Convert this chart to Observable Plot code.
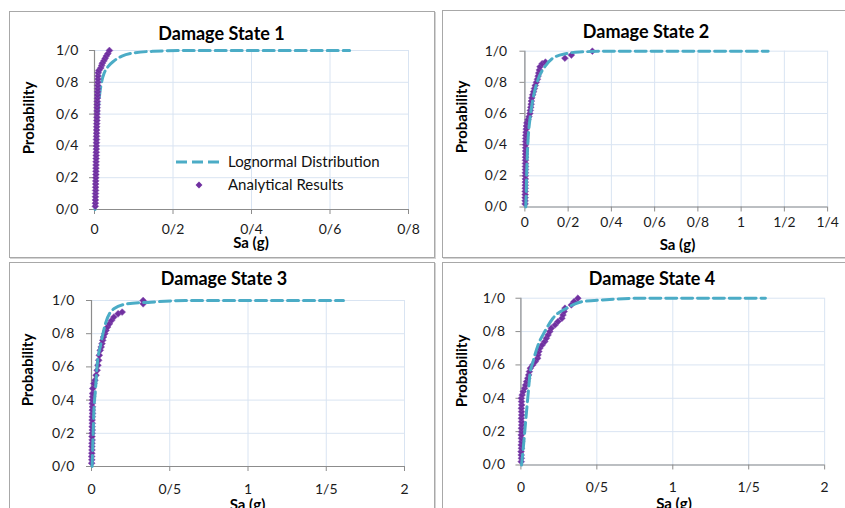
<!DOCTYPE html>
<html>
<head>
<meta charset="utf-8">
<script src="https://cdn.jsdelivr.net/npm/d3@7"></script>
<script src="https://cdn.jsdelivr.net/npm/@observablehq/plot@0.6"></script>
<style>
  html, body { margin: 0; padding: 0; background: #fff; }
  #wrap { position: relative; width: 845px; height: 508px; overflow: hidden; background: #fff; font-family: Lato, "Open Sans", sans-serif; }
  .box { position: absolute; box-sizing: border-box; border: 1.5px solid #a8a8a8; box-shadow: 1px 1px 0 #d4d4d4; }
  .svgHolder { position: absolute; }
  .title { position: absolute; font-weight: 700; font-size: 18px; line-height: 18px; color: #000; transform: translateX(-50%); white-space: nowrap; }
  .xlab { position: absolute; font-weight: 700; font-size: 15px; line-height: 15px; color: #000; transform: translateX(-50%); white-space: nowrap; }
  .ylab { position: absolute; font-weight: 700; font-size: 15px; line-height: 15px; color: #000; transform: translate(-50%, -50%) rotate(-90deg); white-space: nowrap; }
  .leg { position: absolute; font-size: 15px; line-height: 15px; color: #111; white-space: nowrap; }
</style>
</head>
<body>
<div id="wrap"></div>
<script>
// ---------------- data ----------------
const yTicks = [0, 0.2, 0.4, 0.6, 0.8, 1.0];
const yLabels = ["0/0", "0/2", "0/4", "0/6", "0/8", "1/0"];

const ds1XTicks = [0, 0.2, 0.4, 0.6, 0.8];
const ds1XLabels = ["0", "0/2", "0/4", "0/6", "0/8"];
const ds2XTicks = [0, 0.2, 0.4, 0.6, 0.8, 1.0, 1.2, 1.4];
const ds2XLabels = ["0", "0/2", "0/4", "0/6", "0/8", "1", "1/2", "1/4"];
const ds34XTicks = [0, 0.5, 1, 1.5, 2];
const ds34XLabels = ["0", "0/5", "1", "1/5", "2"];

// Damage State 1
const ds1AnaSa = [0.0020,0.0022,0.0023,0.0025,0.0026,0.0028,0.0029,0.0030,0.0032,0.0033,
  0.0035,0.0036,0.0037,0.0039,0.0040,0.0042,0.0043,0.0044,0.0046,0.0047,
  0.0049,0.0050,0.0051,0.0053,0.0055,0.0056,0.0058,0.0060,0.0062,0.0063,
  0.0065,0.0067,0.0069,0.0071,0.0073,0.0075,0.0077,0.0080,0.0082,0.0085,
  0.0088,0.0091,0.0095,0.011,0.016,0.018,0.020,0.024,0.027,0.030,0.034,0.038];
const ds1AnaP = [0.02,0.04,0.06,0.08,0.10,0.12,0.14,0.16,0.18,0.20,
  0.22,0.24,0.26,0.28,0.30,0.32,0.34,0.36,0.38,0.40,
  0.42,0.44,0.46,0.48,0.50,0.52,0.54,0.56,0.58,0.60,
  0.62,0.64,0.66,0.68,0.70,0.72,0.74,0.76,0.78,0.80,
  0.82,0.84,0.86,0.875,0.89,0.905,0.92,0.935,0.95,0.965,0.98,1.0];
const ds1LogSa = [0.0015,0.003,0.004,0.006,0.009,0.013,0.018,0.025,0.035,0.05,0.07,0.1,0.15,0.25,0.4,0.65];
const ds1LogP  = [0.0,0.1,0.25,0.45,0.6,0.72,0.8,0.86,0.9,0.935,0.965,0.985,0.995,1.0,1.0,1.0];

// Damage State 2
const ds2AnaSa = [0.0008,0.0010,0.0012,0.0013,0.0015,0.0016,0.0017,0.0018,0.0020,0.0021,
  0.0022,0.0024,0.0025,0.0026,0.0027,0.0028,0.0030,0.0031,0.0032,0.0033,0.0034,0.0036,
  0.004,0.005,0.006,0.007,0.009,0.014,0.019,0.023,0.025,0.027,0.029,0.030,0.032,0.036,
  0.040,0.044,0.048,0.053,0.058,0.061,0.064,0.067,0.070,0.080,0.095,0.185,0.215,0.312];
const ds2AnaP = [0.02,0.04,0.06,0.08,0.10,0.12,0.14,0.16,0.18,0.20,
  0.22,0.24,0.26,0.28,0.30,0.32,0.34,0.36,0.38,0.40,0.42,0.44,
  0.46,0.48,0.50,0.52,0.54,0.56,0.58,0.60,0.62,0.64,0.66,0.68,0.70,0.72,
  0.74,0.76,0.78,0.80,0.82,0.84,0.86,0.88,0.90,0.92,0.93,0.955,0.975,1.0];
const ds2LogSa = [0.004,0.006,0.008,0.011,0.015,0.023,0.037,0.06,0.092,0.129,0.193,0.252,0.4,0.7,1.125];
const ds2LogP  = [0.0,0.08,0.2,0.33,0.44,0.56,0.69,0.815,0.9,0.955,0.985,0.995,1.0,1.0,1.0];

// Damage State 3
const ds3AnaSa = [0.001,0.002,0.001,0.002,0.003,0.002,0.003,0.004,0.003,0.004,
  0.005,0.004,0.005,0.004,0.005,0.006,0.005,0.006,0.005,0.006,0.007,0.007,
  0.008,0.015,0.022,0.029,0.036,0.041,0.046,0.050,0.056,0.062,0.067,0.072,0.077,
  0.085,0.093,0.103,0.115,0.128,0.143,0.17,0.196,0.33,0.33];
const ds3AnaP = [0.02,0.04,0.06,0.08,0.10,0.12,0.14,0.16,0.18,0.20,
  0.22,0.24,0.26,0.28,0.30,0.32,0.34,0.36,0.38,0.40,0.42,0.44,
  0.47,0.50,0.52,0.55,0.58,0.61,0.64,0.67,0.70,0.72,0.74,0.76,0.78,
  0.80,0.82,0.84,0.86,0.88,0.90,0.92,0.93,0.98,1.0];
const ds3LogSa = [0.004,0.008,0.015,0.026,0.036,0.058,0.089,0.143,0.23,0.38,0.6,1.0,1.61];
const ds3LogP  = [0.0,0.12,0.33,0.47,0.61,0.73,0.86,0.95,0.98,0.99,1.0,1.0,1.0];

// Damage State 4
const ds4AnaSa = [0.002,0.003,0.002,0.001,0.003,0.002,0.004,0.003,0.002,0.004,
  0.003,0.005,0.004,0.003,0.005,0.004,0.003,0.005,0.004,0.003,
  0.008,0.015,0.024,0.031,0.037,0.045,0.051,0.056,0.062,0.078,0.095,0.110,0.113,0.118,0.124,
  0.140,0.157,0.168,0.179,0.190,0.200,0.225,0.244,0.270,0.277,0.285,0.290,0.332,0.350,0.375];
const ds4AnaP = [0.02,0.04,0.06,0.08,0.10,0.12,0.14,0.16,0.18,0.20,
  0.22,0.24,0.26,0.28,0.30,0.32,0.34,0.36,0.38,0.40,
  0.42,0.44,0.46,0.48,0.50,0.52,0.54,0.56,0.58,0.60,0.62,0.64,0.66,0.68,0.70,
  0.72,0.74,0.76,0.78,0.80,0.82,0.84,0.86,0.88,0.90,0.92,0.94,0.96,0.98,1.0];
const ds4LogSa = [0.004,0.01,0.02,0.03,0.04,0.05,0.059,0.08,0.113,0.157,0.211,0.299,0.408,0.538,0.8,1.2,1.61];
const ds4LogP  = [0.0,0.05,0.145,0.25,0.35,0.45,0.54,0.62,0.72,0.80,0.88,0.94,0.98,0.99,1.0,1.0,1.0];

// ---------------- layout ----------------
const LOG_COLOR = "#4bacc6";
const ANA_COLOR = "#7030a0";
const GRID = "#d9e4f2";
const AXIS = "#8c8c8c";

const panels = [
  {title: "Damage State 1", left: 9, top: 11, w: 426, h: 247, mL: 85, mR: 27, mT: 39, mB: 49,
   xDomain: [0, 0.8], xTicks: ds1XTicks, xLabels: ds1XLabels, xPad: 10, yPad: 11,
   anaSa: ds1AnaSa, anaP: ds1AnaP, logSa: ds1LogSa, logP: ds1LogP, dotsOnTop: true,
   titleCenter: 221.5, titleTop: 24, xlabTop: 235, ylab: [28, 118]},
  {title: "Damage State 2", left: 442, top: 10, w: 406, h: 248, mL: 83, mR: 18, mT: 41, mB: 50,
   xDomain: [0, 1.4], xTicks: ds2XTicks, xLabels: ds2XLabels, xPad: 5, yPad: 13,
   anaSa: ds2AnaSa, anaP: ds2AnaP, logSa: ds2LogSa, logP: ds2LogP, dotsOnTop: false,
   titleCenter: 646, titleTop: 22, xlabTop: 237, ylab: [461, 117]},
  {title: "Damage State 3", left: 9, top: 262, w: 426, h: 260, mL: 82, mR: 31, mT: 38, mB: 56,
   xDomain: [0, 2], xTicks: ds34XTicks, xLabels: ds34XLabels, xPad: 13, yPad: 12,
   anaSa: ds3AnaSa, anaP: ds3AnaP, logSa: ds3LogSa, logP: ds3LogP, dotsOnTop: false,
   titleCenter: 224, titleTop: 269, xlabTop: 497, ylab: [27, 370]},
  {title: "Damage State 4", left: 442, top: 262, w: 406, h: 260, mL: 79, mR: 21, mT: 36, mB: 56,
   xDomain: [0, 2], xTicks: ds34XTicks, xLabels: ds34XLabels, xPad: 12, yPad: 11,
   anaSa: ds4AnaSa, anaP: ds4AnaP, logSa: ds4LogSa, logP: ds4LogP, dotsOnTop: false,
   titleCenter: 652, titleTop: 269, xlabTop: 496, ylab: [461, 371]}
];

const wrap = document.getElementById("wrap");

function zip(xs, ys) { return xs.map((x, i) => ({sa: x, p: ys[i]})); }

panels.forEach(cfg => {
  const box = document.createElement("div");
  box.className = "box";
  Object.assign(box.style, {left: cfg.left + "px", top: cfg.top + "px", width: cfg.w + "px", height: cfg.h + "px"});
  wrap.appendChild(box);

  const ana = zip(cfg.anaSa, cfg.anaP);
  const log = zip(cfg.logSa, cfg.logP);
  const lineMark = Plot.line(log, {x: "sa", y: "p", stroke: LOG_COLOR, strokeWidth: 3, strokeDasharray: "11,5", curve: "monotone-x"});
  const dotMark = Plot.dot(ana, {x: "sa", y: "p", symbol: "diamond2", r: 3.1, fill: ANA_COLOR, stroke: "#8a55b5", strokeWidth: 0.5});

  const chart = Plot.plot({
    width: cfg.w, height: cfg.h,
    marginLeft: cfg.mL, marginRight: cfg.mR, marginTop: cfg.mT, marginBottom: cfg.mB,
    x: {domain: cfg.xDomain, axis: null},
    y: {domain: [0, 1], axis: null},
    style: {fontFamily: "Lato, 'Open Sans', sans-serif", fontSize: "14px", background: "transparent", overflow: "visible", color: "#1a1a1a"},
    marks: [
      Plot.gridX(cfg.xTicks, {stroke: GRID, strokeOpacity: 1, strokeWidth: 1}),
      Plot.gridY(yTicks, {stroke: GRID, strokeOpacity: 1, strokeWidth: 1}),
      Plot.ruleX([0], {stroke: AXIS, strokeWidth: 1.2}),
      Plot.ruleY([0], {stroke: AXIS, strokeWidth: 1.2}),
      Plot.axisX(cfg.xTicks, {label: null, tickSize: 5, tickPadding: cfg.xPad, stroke: AXIS, fill: "#1a1a1a",
        tickFormat: d => cfg.xLabels[cfg.xTicks.indexOf(d)], fontSize: 14}),
      Plot.axisY(yTicks, {label: null, tickSize: 5, tickPadding: cfg.yPad, stroke: AXIS, fill: "#1a1a1a",
        tickFormat: d => yLabels[yTicks.indexOf(d)], fontSize: 14}),
      ...(cfg.dotsOnTop ? [lineMark, dotMark] : [dotMark, lineMark])
    ]
  });
  const holder = document.createElement("div");
  holder.className = "svgHolder";
  Object.assign(holder.style, {left: cfg.left + "px", top: cfg.top + "px"});
  holder.appendChild(chart);
  wrap.appendChild(holder);

  const t = document.createElement("div");
  t.className = "title";
  t.textContent = cfg.title;
  Object.assign(t.style, {left: cfg.titleCenter + "px", top: cfg.titleTop + "px"});
  wrap.appendChild(t);

  const plotCenter = cfg.left + cfg.mL + (cfg.w - cfg.mL - cfg.mR) / 2;
  const xl = document.createElement("div");
  xl.className = "xlab";
  xl.textContent = "Sa (g)";
  Object.assign(xl.style, {left: plotCenter + "px", top: cfg.xlabTop + "px"});
  wrap.appendChild(xl);

  const yl = document.createElement("div");
  yl.className = "ylab";
  yl.textContent = "Probability";
  Object.assign(yl.style, {left: cfg.ylab[0] + "px", top: cfg.ylab[1] + "px"});
  wrap.appendChild(yl);
});

// legend (Damage State 1)
const legSvg = d3.select(wrap).append("svg")
  .attr("width", 60).attr("height", 40)
  .style("position", "absolute").style("left", "172px").style("top", "152px");
legSvg.append("line").attr("x1", 4).attr("x2", 50).attr("y1", 10).attr("y2", 10)
  .attr("stroke", LOG_COLOR).attr("stroke-width", 3).attr("stroke-dasharray", "11,5");
legSvg.append("path").attr("d", d3.symbol(d3.symbolDiamond2, Math.PI * 3.1 * 3.1)())
  .attr("transform", "translate(27,33)").attr("fill", ANA_COLOR);

const l1 = document.createElement("div");
l1.className = "leg"; l1.textContent = "Lognormal Distribution";
Object.assign(l1.style, {left: "228px", top: "154px"});
wrap.appendChild(l1);
const l2 = document.createElement("div");
l2.className = "leg"; l2.textContent = "Analytical Results";
Object.assign(l2.style, {left: "228px", top: "177px"});
wrap.appendChild(l2);
</script>
</body>
</html>
